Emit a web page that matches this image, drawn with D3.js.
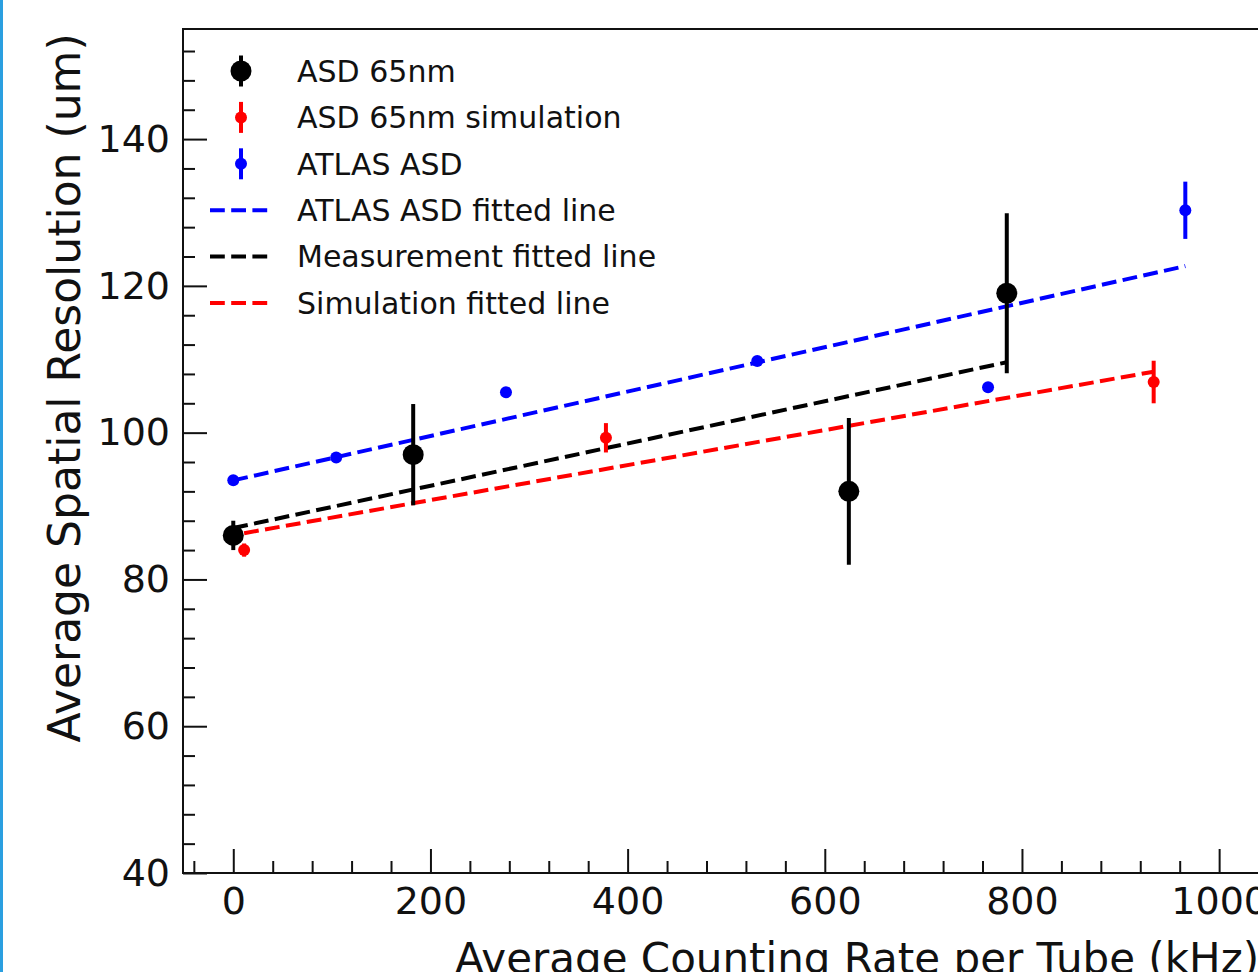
<!DOCTYPE html>
<html>
<head>
<meta charset="utf-8">
<script src="https://cdn.jsdelivr.net/npm/d3@7"></script>
<style>
  body { margin: 0; background: #fff; }
  svg { display: block; font-family: "DejaVu Sans", sans-serif; }
</style>
</head>
<body>
<svg id="chart" width="1258" height="972"></svg>
<script>
// ASD 65nm measurement
const asdRate = [0, 182.5, 624.4, 784.6]
const asdRes = [86.0, 97.0, 92.0, 119.0]
const asdErr = [2.0, 6.9, 10.0, 10.9]

// ASD 65nm simulation
const simRate = [11, 378, 933.6]
const simRes = [84.0, 99.3, 106.9]
const simErr = [0.9, 2.0, 2.9]

// ATLAS ASD
const atlasRate = [0, 104.4, 276.6, 531.5, 765.6, 965.7]
const atlasRes = [93.5, 96.6, 105.5, 109.75, 106.2, 130.3]
const atlasErr = [0.3, 0.3, 0.3, 0.3, 0.3, 3.9]

// fitted lines: res = intercept + slope * rate
const fitNames = ["ATLAS ASD fitted line", "Measurement fitted line", "Simulation fitted line"]
const fitIntercept = [93.5, 87.0, 86.04]
const fitSlope = [0.03024, 0.0288, 0.02385]
const fitColours = ["#0000ff", "#000000", "#ff0000"]

const xMajor = [0, 200, 400, 600, 800, 1000]
const yMajor = [40, 60, 80, 100, 120, 140]

const series = [
  { name: "ASD 65nm", rate: asdRate, res: asdRes, err: asdErr, colour: "#000000", r: 10.5 },
  { name: "ASD 65nm simulation", rate: simRate, res: simRes, err: simErr, colour: "#ff0000", r: 6 },
  { name: "ATLAS ASD", rate: atlasRate, res: atlasRes, err: atlasErr, colour: "#0000ff", r: 6 }
]
// fit i spans the rate range of this series
const fitSeries = [2, 0, 1]

let svg = d3.select("#chart")

let x = d3.scaleLinear().domain([-51, 1080]).range([183, 1298])
let y = d3.scaleLinear().domain([40, 155]).range([873, 29])

// thin blue frame edge on the left
svg.append("rect")
  .attr("x", 0).attr("y", 0)
  .attr("width", 3).attr("height", 972)
  .attr("fill", "#2a9fe0")

// Axes
let xMinor = d3.range(-40, 1080, 40).filter(v => !xMajor.includes(v))
let yMinor = d3.range(44, 155, 4).filter(v => !yMajor.includes(v))

let gx = svg.append("g")
  .attr("transform", `translate(0,${y(40)})`)
gx.append("g")
  .call(d3.axisBottom(x).tickValues(xMajor).tickFormat(d3.format("d"))
    .tickSize(-24).tickSizeOuter(0).tickPadding(14))
gx.append("g")
  .call(d3.axisBottom(x).tickValues(xMinor).tickSize(-12).tickSizeOuter(0).tickFormat(""))

let gy = svg.append("g")
  .attr("transform", `translate(${x.range()[0]},0)`)
gy.append("g")
  .call(d3.axisLeft(y).tickValues(yMajor).tickFormat(d3.format("d"))
    .tickSize(-24).tickSizeOuter(0).tickPadding(13))
gy.append("g")
  .call(d3.axisLeft(y).tickValues(yMinor).tickSize(-12).tickSizeOuter(0).tickFormat(""))

svg.selectAll(".domain").remove()
svg.selectAll(".tick line")
  .attr("stroke", "#111")
  .attr("stroke-width", 2)
svg.selectAll(".tick text")
  .attr("fill", "#111")
  .attr("font-size", 38)
  .attr("font-family", "DejaVu Sans")

// frame
svg.append("rect")
  .attr("x", x.range()[0])
  .attr("y", y.range()[1])
  .attr("width", x.range()[1] - x.range()[0])
  .attr("height", y.range()[0] - y.range()[1])
  .attr("fill", "none")
  .attr("stroke", "#111")
  .attr("stroke-width", 2)

// Axis labels
svg.append("text")
  .attr("transform", "translate(80,388) rotate(-90)")
  .attr("text-anchor", "middle")
  .attr("font-size", 44)
  .attr("fill", "#111")
  .text("Average Spatial Resolution (um)")

svg.append("text")
  .attr("x", 455)
  .attr("y", 973)
  .attr("font-size", 42)
  .attr("fill", "#111")
  .text("Average Counting Rate per Tube (kHz)")

// Fitted lines
let plot = svg.append("g")

fitNames.forEach((name, i) => {
  let s = series[fitSeries[i]]
  let x0 = d3.min(s.rate), x1 = d3.max(s.rate)
  plot.append("line")
    .attr("x1", x(x0)).attr("y1", y(fitIntercept[i] + fitSlope[i] * x0))
    .attr("x2", x(x1)).attr("y2", y(fitIntercept[i] + fitSlope[i] * x1))
    .attr("stroke", fitColours[i])
    .attr("stroke-width", 4)
    .attr("stroke-dasharray", "14.8,6.4")
})

// Error bars and markers
series.forEach(s => {
  let pts = s.rate.map((r, i) => ({ r, v: s.res[i], e: s.err[i] }))
  let g = plot.append("g")
  g.selectAll("line")
    .data(pts)
    .join("line")
    .attr("x1", d => x(d.r)).attr("x2", d => x(d.r))
    .attr("y1", d => y(d.v - d.e)).attr("y2", d => y(d.v + d.e))
    .attr("stroke", s.colour)
    .attr("stroke-width", 4)
  g.selectAll("circle")
    .data(pts)
    .join("circle")
    .attr("cx", d => x(d.r))
    .attr("cy", d => y(d.v))
    .attr("r", s.r)
    .attr("fill", s.colour)
})

// Legend
let legend = svg.append("g")
let rowY = i => 71 + i * 46.4

series.forEach((s, i) => {
  let row = legend.append("g").attr("transform", `translate(0,${rowY(i)})`)
  row.append("line")
    .attr("x1", 241).attr("x2", 241)
    .attr("y1", -15.5).attr("y2", 15.5)
    .attr("stroke", s.colour)
    .attr("stroke-width", 4)
  row.append("circle")
    .attr("cx", 241).attr("cy", 0)
    .attr("r", s.r)
    .attr("fill", s.colour)
  row.append("text")
    .attr("x", 297).attr("dy", "0.36em")
    .attr("font-size", 30)
    .attr("fill", "#111")
    .text(s.name)
})

fitNames.forEach((name, i) => {
  let row = legend.append("g").attr("transform", `translate(0,${rowY(i + 3)})`)
  row.append("line")
    .attr("x1", 210).attr("x2", 273)
    .attr("stroke", fitColours[i])
    .attr("stroke-width", 4)
    .attr("stroke-dasharray", "14.8,6.4")
  row.append("text")
    .attr("x", 297).attr("dy", "0.36em")
    .attr("font-size", 30)
    .attr("fill", "#111")
    .text(name)
})
</script>
</body>
</html>
